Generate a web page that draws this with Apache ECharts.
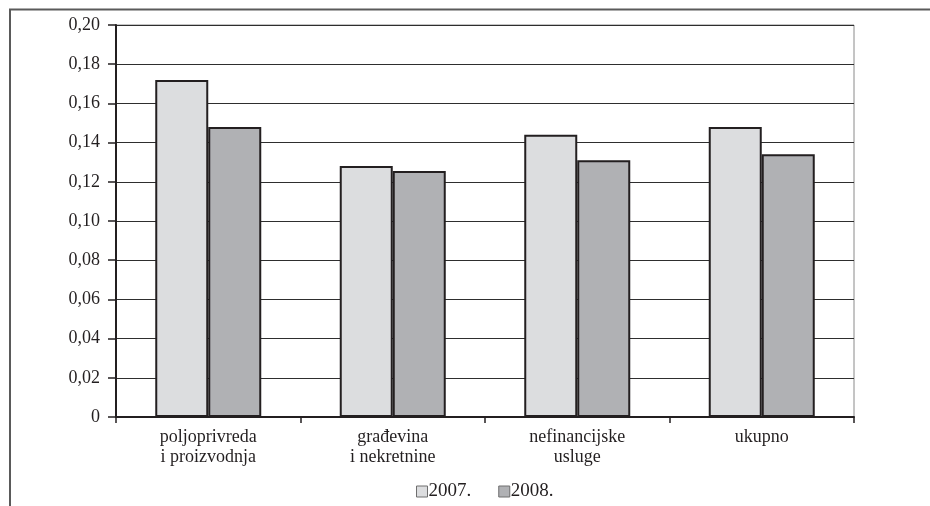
<!DOCTYPE html>
<html>
<head>
<meta charset="utf-8">
<script src="https://cdn.jsdelivr.net/npm/echarts@6/dist/echarts.min.js"></script>
<style>
  html, body { margin: 0; padding: 0; background: #fff; }
  #chart { width: 930px; height: 506px; }
</style>
</head>
<body>
<div id="chart"></div>
<script>
// Sector categories (two-line labels) and yearly values
const categories = ['poljoprivreda\ni proizvodnja', 'građevina\ni nekretnine', 'nefinancijske\nusluge', 'ukupno'];
const seriesNames = ['2007.', '2008.'];
const values2007 = [0.172, 0.128, 0.144, 0.148];
const values2008 = [0.148, 0.1255, 0.131, 0.134];

const FONT = '"Liberation Serif", "DejaVu Serif", serif';
const INK = '#231f20';

const chart = echarts.init(document.getElementById('chart'), null, { renderer: 'canvas' });

chart.setOption({
  animation: false,
  backgroundColor: '#ffffff',
  textStyle: { fontFamily: FONT },
  graphic: [
    // outer frame: top and left edges
    { type: 'line', shape: { x1: 9, y1: 9.5, x2: 930, y2: 9.5 }, style: { stroke: '#5a5a5a', lineWidth: 2 } },
    { type: 'line', shape: { x1: 10, y1: 9, x2: 10, y2: 506 }, style: { stroke: '#5a5a5a', lineWidth: 2 } }
  ],
  grid: {
    left: 116, right: 76, top: 25, bottom: 89, containLabel: false,
    show: true, borderColor: '#8a8a8a', borderWidth: 1, backgroundColor: 'transparent'
  },
  legend: {
    bottom: 0,
    left: 411,
    itemWidth: 11,
    itemHeight: 11,
    itemGap: 27,
    icon: 'rect',
    itemStyle: { borderColor: '#6e6e6e', borderWidth: 1 },
    textStyle: { fontFamily: FONT, fontSize: 19, color: INK, padding: [0, 0, 0, -4] },
    data: seriesNames
  },
  xAxis: {
    type: 'category',
    data: categories,
    axisLine: { lineStyle: { color: INK, width: 2 } },
    axisTick: { show: true, length: 6, lineStyle: { color: INK, width: 1.5 } },
    axisLabel: { fontFamily: FONT, fontSize: 18, color: INK, lineHeight: 20, margin: 10 },
    splitLine: { show: false }
  },
  yAxis: {
    type: 'value',
    min: 0,
    max: 0.2,
    interval: 0.02,
    axisLine: { show: true, lineStyle: { color: INK, width: 2 } },
    axisTick: { show: true, length: 8, lineStyle: { color: INK, width: 1.5 } },
    axisLabel: {
      fontFamily: FONT, fontSize: 18, color: INK, margin: 16,
      formatter: v => (Math.abs(v) < 1e-9 ? '0' : v.toFixed(2).replace('.', ','))
    },
    splitLine: { show: true, lineStyle: { color: '#2e2e2e', width: 1.2 } }
  },
  series: [
    {
      name: seriesNames[0],
      type: 'bar',
      data: values2007,
      barWidth: 53,
      barGap: '0%',
      itemStyle: { color: '#dcdddf', borderColor: INK, borderWidth: 2 }
    },
    {
      name: seriesNames[1],
      type: 'bar',
      data: values2008,
      barWidth: 53,
      barGap: '0%',
      itemStyle: { color: '#b0b1b4', borderColor: INK, borderWidth: 2 }
    }
  ]
});
</script>
</body>
</html>
